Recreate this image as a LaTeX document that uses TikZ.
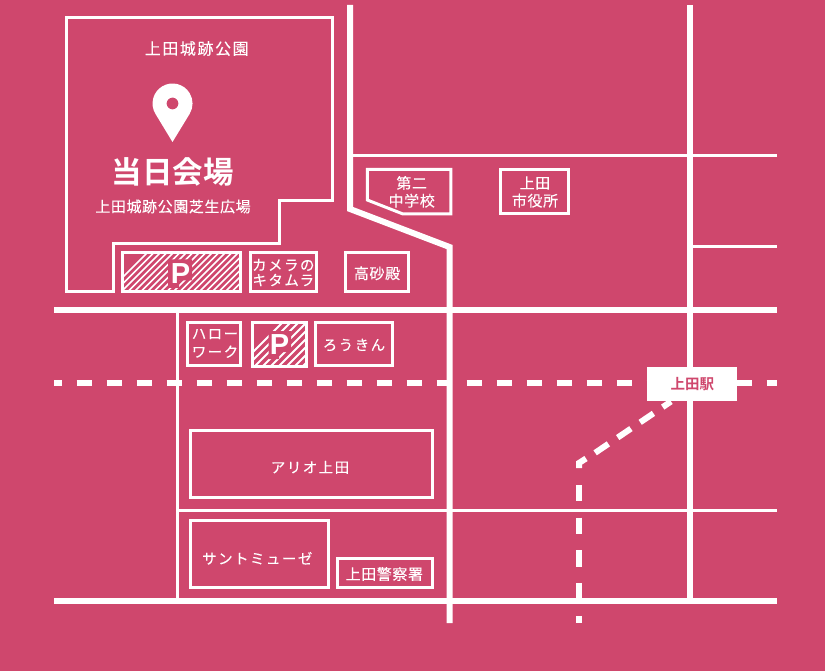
\documentclass[tikz,border=0pt]{standalone}
\usepackage{fontspec}
\setmainfont{Noto Sans CJK JP}
\newfontfamily\latinbold{Liberation Sans}[Scale=1]
\definecolor{bgpink}{HTML}{CF476D}
\newcommand{\jpsize}[1]{\fontsize{#1}{#1}\selectfont}
\newfontfamily\jpl{Noto Sans CJK JP}[LetterSpace=10,FakeBold=0.15]
\newfontfamily\jpk{Noto Sans CJK JP}[LetterSpace=4,FakeBold=0.15]
\newfontfamily\jpb{Noto Sans CJK JP Bold}
\tikzset{
  x=1pt,y=-1pt,
  road/.style={draw=white,line width=6pt,line cap=butt,line join=miter},
  thinroad/.style={draw=white,line width=3pt,line cap=butt},
  bldg/.style={draw=white,line width=3pt,line join=miter},
  label/.style={text=white,inner sep=0pt,font=\jpl\jpsize{14.5},align=center},
  kanji/.style={text=white,inner sep=0pt,font=\jpk\jpsize{15},align=center},
  hatchline/.style={draw=white,line width=1.6pt},
  pmark/.style={text=white,inner sep=0pt,font=\latinbold\bfseries\fontsize{29}{29}\selectfont},
}
\begin{document}
\begin{tikzpicture}
\useasboundingbox (0,0) rectangle (825,671);
\fill[bgpink] (0,0) rectangle (825,671);
% roads
\draw[road] (350,5) -- (350,209) -- (449.5,247) -- (449.5,623);
\draw[road] (690,5) -- (690,601);
\draw[road] (54,309.5) -- (777,309.5);
\draw[road] (54,601) -- (777,601);
\draw[thinroad] (350,156) -- (777,156);
\draw[thinroad] (690,246.5) -- (777,246.5);
\draw[thinroad] (177,510.5) -- (777,510.5);
\draw[thinroad] (177,309.5) -- (177,601);
% rail
\draw[road,dash pattern=on 15pt off 15pt,dash phase=7.5pt] (54,382.5) -- (777,382.5);
% walking route
\draw[road,dash pattern=on 16pt off 11.2pt,dash phase=6pt] (671,401.5) -- (590,456.3);
\draw[road] (586,458.5) -- (579,463) -- (579,468);
\draw[road,dash pattern=on 16.4pt off 16.3pt] (579,485) -- (579,623);
% park
\draw[bldg] (66.7,18) -- (332,18) -- (332,201) -- (279,201) -- (279,244) -- (113,244) -- (113,291.5) -- (66.7,291.5) -- cycle;
% pin
\fill[white,even odd rule] (172.5,142) -- (155.4,113.8) arc[start angle=211,end angle=-31,radius=20pt] -- cycle
  (178.5,103.5) arc[start angle=0,end angle=360,radius=6pt];
% hatched lots
\begin{scope}
\clip (122.5,252.5) rectangle (240.5,291.5);
\foreach \i in {0,...,30} \draw[hatchline] (100+6.5*\i,300) -- (100+6.5*\i+60,240);
\end{scope}
\draw[bldg] (122.5,252.5) rectangle (240.5,291.5);
\begin{scope}
\clip (252.5,322.5) rectangle (306.5,366);
\foreach \i in {0,...,18} \draw[hatchline,line width=2pt] (230+8*\i,375) -- (230+8*\i+60,315);
\end{scope}
\draw[bldg] (252.5,322.5) rectangle (306.5,366);
% clear areas behind the P marks
\fill[bgpink] (168,259.5) -- (192,259.5) -- (192,280.5) -- (179,280.5) -- (179,288) -- (168,288) -- cycle;
\fill[bgpink] (268.5,331) -- (291,331) -- (291,352) -- (279,352) -- (279,359) -- (268.5,359) -- cycle;
\node[pmark] (p1) at (180.5,273.5) {P};
\node[pmark] (p2) at (279.5,345) {P};
% buildings
\draw[bldg] (250.5,252.5) rectangle (316,291.5);
\draw[bldg] (345.8,252.8) rectangle (408.2,291.8);
\draw[bldg] (367.3,169.5) -- (450.8,169.5) -- (450.8,214) -- (403,214) -- (367.3,200) -- cycle;
\draw[bldg] (500.5,169.5) rectangle (568,214);
\draw[bldg] (187.5,322.2) rectangle (240.2,365.8);
\draw[bldg] (315.8,322.2) rectangle (392.2,365.8);
\draw[bldg] (190.8,430.2) rectangle (432.5,497.5);
\draw[bldg] (190.8,520.5) rectangle (328.8,587.8);
\draw[bldg] (337.5,558.5) rectangle (432.5,587.8);
% labels
\node[label,font=\jpl\jpsize{16}] (t1) at (196.7,48.5) {上田城跡公園};
\node[text=white,inner sep=0pt,font=\jpb\jpsize{30.5}] (t2) at (172.5,172) {当日会場};
\node[kanji] (t3) at (173,206.5) {上田城跡公園芝生広場};
\node[label] (t4) at (283.3,265) {カメラの};
\node[label] (t5) at (283.3,280) {キタムラ};
\node[kanji] (t6) at (377,273.3) {高砂殿};
\node[kanji] (t7) at (411.7,183) {第二};
\node[kanji] (t8) at (411.7,200.7) {中学校};
\node[kanji] (t9) at (535,183) {上田};
\node[kanji] (t10) at (535,200.7) {市役所};
\node[label] (t11) at (215,334) {ハロー};
\node[label] (t12) at (215,351.7) {ワーク};
\node[label] (t13) at (354,345) {ろうきん};
\node[label] (t14) at (310,467.3) {アリオ上田};
\node[label] (t15) at (257.3,558.3) {サントミューゼ};
\node[kanji] (t16) at (384.3,574) {上田警察署};
% station
\node[fill=white,minimum width=90pt,minimum height=34pt,inner sep=0pt,text=bgpink,font=\jpb\jpsize{14.5}] (station) at (692.3,384.3) {上田駅};
\end{tikzpicture}
\end{document}
